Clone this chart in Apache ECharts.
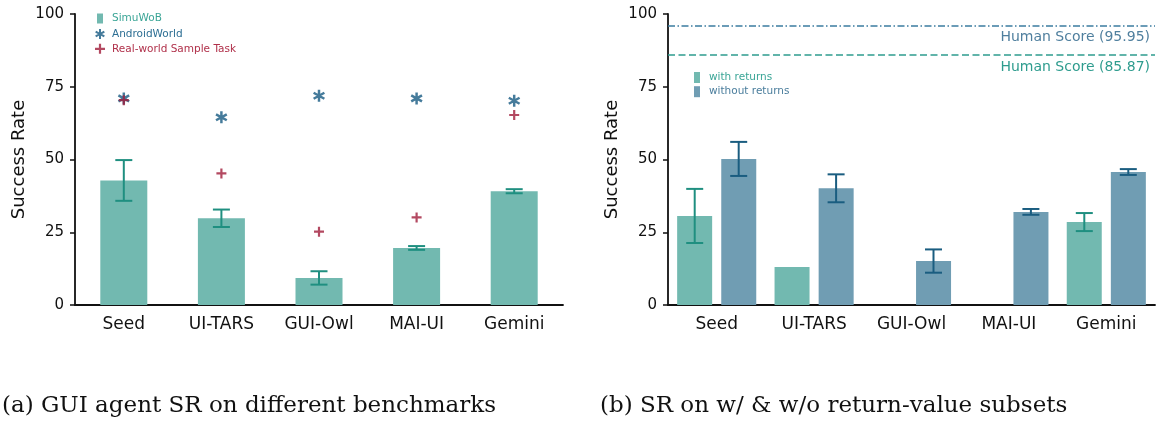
<!DOCTYPE html>
<html>
<head>
<meta charset="utf-8">
<script src="https://cdn.jsdelivr.net/npm/echarts@6/dist/echarts.min.js"></script>
<style>
html,body{margin:0;padding:0;background:#fff;}
#c{width:1157px;height:426px;}
</style>
</head>
<body>
<div id="c"></div>
<script>
// ---------- data ----------
const categories = ['Seed', 'UI-TARS', 'GUI-Owl', 'MAI-UI', 'Gemini'];
const yTicks = [0, 25, 50, 75, 100];

// (a) GUI agent SR on different benchmarks
const simuwob = [42.8, 29.8, 9.3, 19.6, 39.1];
const simuwobErr = [7.0, 3.0, 2.3, 0.65, 0.7];
const androidWorld = [71.0, 64.5, 71.9, 71.0, 70.2];
const realWorld = [70.4, 45.2, 25.2, 30.1, 65.3];

// (b) SR on w/ & w/o return-value subsets
const withReturns = [30.6, 13.1, 0, 0, 28.5];
const withReturnsErr = [9.3, null, null, null, 3.1];
const withoutReturns = [50.2, 40.1, 15.1, 32.0, 45.7];
const withoutReturnsErr = [5.85, 4.8, 4.0, 1.0, 1.0];

const humanScoreWithout = 95.95;
const humanScoreWith = 85.87;

const captionA = '(a) GUI agent SR on different benchmarks';
const captionB = '(b) SR on w/ & w/o return-value subsets';

// ---------- styles ----------
const FONT = 'DejaVu Sans';
const TEAL = '#72b9b0';
const TEAL_ERR = '#1f8f80';
const BLUE = '#709db3';
const BLUE_ERR = '#1a5d80';
const STAR_C = '#175a82';
const PLUS_C = '#a01c3a';

const starPath = 'path://M40,0L60,0L60,100L40,100Z' +
  'M1.5,34L11.5,16.5L98.5,66L88.5,83.5Z' +
  'M11.5,83.5L1.5,66L88.5,16.5L98.5,34Z';
const plusPath = 'path://M39,0L61,0L61,39L100,39L100,61L61,61L61,100L39,100L39,61L0,61L0,39L39,39Z';

function errData(vals, errs) {
  const out = [];
  vals.forEach((v, i) => {
    if (errs[i] != null) out.push([i, v - errs[i], v + errs[i]]);
  });
  return out;
}

function errRender(offset, capHalf, color) {
  return function (params, api) {
    const x = api.value(0);
    const lo = api.coord([x, api.value(1)]);
    const hi = api.coord([x, api.value(2)]);
    const cx = lo[0] + offset;
    const st = { stroke: color, lineWidth: 2 };
    return {
      type: 'group',
      children: [
        { type: 'line', shape: { x1: cx, y1: hi[1], x2: cx, y2: lo[1] }, style: st },
        { type: 'line', shape: { x1: cx - capHalf, y1: hi[1], x2: cx + capHalf, y2: hi[1] }, style: st },
        { type: 'line', shape: { x1: cx - capHalf, y1: lo[1], x2: cx + capHalf, y2: lo[1] }, style: st }
      ]
    };
  };
}

function xAxisCfg(gi) {
  return {
    type: 'category', gridIndex: gi, data: categories,
    axisLine: { lineStyle: { color: '#111', width: 1.8 } },
    axisTick: { inside: true, alignWithLabel: true, length: 5, lineStyle: { color: '#111', width: 1.5 } },
    axisLabel: { color: '#111', fontSize: 17, fontFamily: FONT, margin: 11 }
  };
}
function yAxisCfg(gi) {
  return {
    type: 'value', gridIndex: gi, min: yTicks[0], max: yTicks[yTicks.length - 1], interval: 25,
    name: 'Success Rate', nameLocation: 'middle', nameGap: 47,
    nameTextStyle: { fontSize: 18, fontFamily: FONT, color: '#111' },
    axisLine: { show: true, lineStyle: { color: '#111', width: 1.8 } },
    axisTick: { show: true, length: 5, lineStyle: { color: '#111', width: 1.5 } },
    axisLabel: { color: '#111', fontSize: 15, fontFamily: FONT, margin: 11 },
    splitLine: { show: false }
  };
}

const legendText = { fontSize: 10.5, fontFamily: FONT, lineHeight: 10, padding: [0, 0, 0, 4] };

const option = {
  animation: false,
  backgroundColor: '#fff',
  grid: [
    { left: 75, top: 14, width: 488, height: 291 },
    { left: 668, top: 14, width: 487, height: 291 }
  ],
  xAxis: [xAxisCfg(0), xAxisCfg(1)],
  yAxis: [yAxisCfg(0), yAxisCfg(1)],
  legend: [
    {
      data: [{ name: 'SimuWoB', icon: 'rect', textStyle: { color: '#3aa596' } }],
      left: 92, top: 8, itemWidth: 6, itemHeight: 10, selectedMode: false,
      textStyle: legendText
    },
    {
      data: [
        { name: 'AndroidWorld', icon: starPath, textStyle: { color: '#2c6e93' } },
        { name: 'Real-world Sample Task', icon: plusPath, textStyle: { color: '#b0304a' } }
      ],
      orient: 'vertical', left: 90, top: 23.5, itemWidth: 10, itemHeight: 10, itemGap: 3.8,
      selectedMode: false, textStyle: Object.assign({}, legendText, { padding: [0, 0, 0, 2] })
    },
    {
      data: [
        { name: 'with returns', icon: 'rect', textStyle: { color: '#3aa596' } },
        { name: 'without returns', icon: 'rect', textStyle: { color: '#4a7d9c' } }
      ],
      orient: 'vertical', left: 689, top: 67, itemWidth: 6, itemHeight: 11, itemGap: 3.2,
      selectedMode: false, textStyle: legendText
    }
  ],
  series: [
    {
      name: 'SimuWoB', type: 'bar', xAxisIndex: 0, yAxisIndex: 0,
      data: simuwob, barWidth: 47, itemStyle: { color: TEAL }
    },
    {
      name: 'simuwob-err', type: 'custom', xAxisIndex: 0, yAxisIndex: 0,
      renderItem: errRender(0, 8.5, TEAL_ERR), encode: { x: 0, y: [1, 2] },
      data: errData(simuwob, simuwobErr), z: 5
    },
    {
      name: 'AndroidWorld', type: 'scatter', xAxisIndex: 0, yAxisIndex: 0,
      data: androidWorld, symbol: starPath, symbolSize: 12, itemStyle: { color: STAR_C }, z: 6
    },
    {
      name: 'Real-world Sample Task', type: 'scatter', xAxisIndex: 0, yAxisIndex: 0,
      data: realWorld, symbol: plusPath, symbolSize: 10, itemStyle: { color: PLUS_C }, z: 7
    },
    {
      name: 'with returns', type: 'bar', xAxisIndex: 1, yAxisIndex: 1,
      data: withReturns, barWidth: 35, barGap: '26%', itemStyle: { color: TEAL }
    },
    {
      name: 'without returns', type: 'bar', xAxisIndex: 1, yAxisIndex: 1,
      data: withoutReturns, barWidth: 35, barGap: '26%', itemStyle: { color: BLUE },
      markLine: {
        silent: true, symbol: 'none',
        data: [
          {
            yAxis: humanScoreWithout,
            lineStyle: { color: '#3b7ca0', width: 1.5, type: [7, 2.5, 1.5, 2.5] },
            label: {
              show: true, position: 'insideEndBottom', distance: 5,
              formatter: 'Human Score (' + humanScoreWithout.toFixed(2) + ')',
              color: '#4f7f9e', fontSize: 14, fontFamily: FONT
            }
          },
          {
            yAxis: humanScoreWith,
            lineStyle: { color: '#2e9c8e', width: 1.5, type: [7, 3.5] },
            label: {
              show: true, position: 'insideEndBottom', distance: 5,
              formatter: 'Human Score (' + humanScoreWith.toFixed(2) + ')',
              color: '#2e9c8e', fontSize: 14, fontFamily: FONT
            }
          }
        ]
      }
    },
    {
      name: 'with-err', type: 'custom', xAxisIndex: 1, yAxisIndex: 1,
      renderItem: errRender(-22, 8.5, TEAL_ERR), encode: { x: 0, y: [1, 2] },
      data: errData(withReturns, withReturnsErr), z: 5
    },
    {
      name: 'without-err', type: 'custom', xAxisIndex: 1, yAxisIndex: 1,
      renderItem: errRender(22, 8.5, BLUE_ERR), encode: { x: 0, y: [1, 2] },
      data: errData(withoutReturns, withoutReturnsErr), z: 5
    }
  ],
  graphic: [
    { type: 'text', left: 2, top: 395, style: { text: captionA, font: '23px "DejaVu Serif"', fill: '#111' } },
    { type: 'text', left: 600, top: 395, style: { text: captionB, font: '23px "DejaVu Serif"', fill: '#111' } }
  ]
};

const chart = echarts.init(document.getElementById('c'), null, { renderer: 'canvas' });
chart.setOption(option);
</script>
</body>
</html>
